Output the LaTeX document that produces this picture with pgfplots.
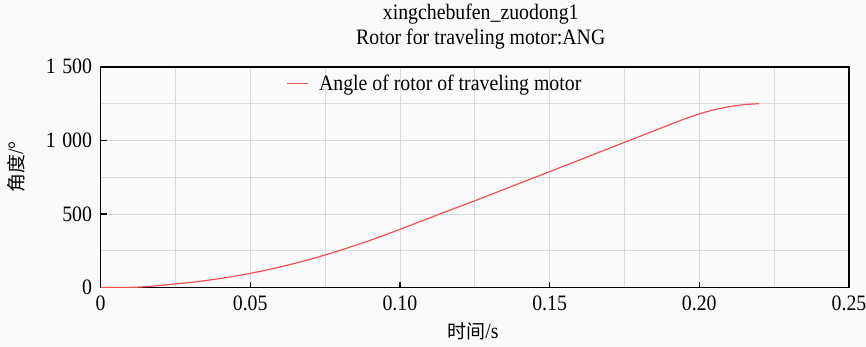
\documentclass[border=0pt]{standalone}
\usepackage{fontspec}
\setmainfont{Liberation Serif}[FakeStretch=0.9]
\newfontfamily\cjk{Noto Sans CJK SC}
\usepackage{pgfplots}
\pgfplotsset{compat=1.18}
\definecolor{bg}{RGB}{250,250,250}
\definecolor{gridc}{RGB}{218,218,218}
\definecolor{curve}{RGB}{240,82,82}
\begin{document}
\begin{tikzpicture}
\path[use as bounding box, fill=bg] (-100.5pt,-58.5pt) rectangle (765.5pt,287.5pt);
\begin{axis}[
  at={(0,0)}, anchor=origin,
  width=748.5pt, height=220.8pt, scale only axis,
  xmin=0, xmax=0.25, ymin=0, ymax=1500,
  xtick={0,0.05,0.1,0.15,0.2,0.25},
  xticklabels={0,0.05,0.10,0.15,0.20,0.25},
  minor xtick={0.025,0.075,0.125,0.175,0.225},
  ytick={0,500,1000,1500},
  yticklabels={0,500,1\hspace{0.3em}000,1\hspace{0.3em}500},
  minor ytick={250,750,1250},
  grid=both,
  grid style={gridc, line width=0.8pt},
  minor grid style={gridc, line width=0.8pt},
  tick align=inside,
  xtick pos=left, ytick pos=left,
  major tick length=6pt, minor tick length=0pt,
  major tick style={black, line width=1.2pt},
  axis line style={line width=1.6pt},
  ticklabel style={font=\fontsize{22}{25}\selectfont},
  xticklabel style={yshift=-5pt},
  yticklabel style={xshift=-5pt},
  title={xingchebufen\_zuodong1\\Rotor for traveling motor:ANG},
  title style={align=center, font=\fontsize{22}{25.7}\selectfont, at={(axis description cs:0.508,1)}, anchor=south, yshift=11pt, inner sep=0pt},
  xlabel={{\cjk\fontsize{19}{22}\selectfont 时间}/s},
  xlabel style={font=\fontsize{22}{24}\selectfont, at={(axis description cs:0.4977,-0.197)}, anchor=center},
  ylabel={{\cjk\fontsize{19}{22}\selectfont 角度}/°},
  ylabel style={font=\fontsize{22}{24}\selectfont, at={(axis description cs:-0.113,0.546)}, anchor=center, rotate=0},
  legend style={at={(axis description cs:0.249,0.923)}, anchor=west, draw=none, fill=none,
    inner sep=0pt, outer sep=0pt, font=\fontsize{22}{25}\selectfont, nodes={inner sep=0pt}},
  legend image code/.code={\draw[#1] (0pt,0pt) -- (21pt,0pt); \path (31pt,0pt);},
]
\addplot[curve, line width=1.2pt] coordinates {
(0,0) (0.008,0) (0.012,2) (0.016,6.5) (0.020,14.5) (0.025,24) (0.030,34.5) (0.035,46.5)
(0.040,61) (0.045,77.5) (0.050,96) (0.055,116.5) (0.060,139.5) (0.065,164.5) (0.070,191.5)
(0.075,221) (0.080,252) (0.085,285) (0.090,320) (0.095,357) (0.100,395) (0.105,434)
(0.110,473) (0.115,512) (0.120,550.5) (0.125,589) (0.150,787) (0.175,986) (0.195,1145)
(0.200,1180) (0.205,1208) (0.210,1229) (0.215,1243) (0.220,1249)
};
\addlegendentry{Angle of rotor of traveling motor}
\end{axis}
\end{tikzpicture}
\end{document}
